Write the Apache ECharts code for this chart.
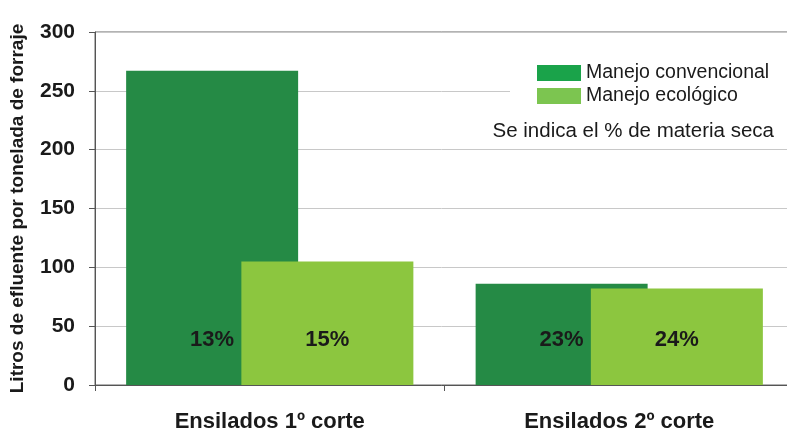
<!DOCTYPE html>
<html>
<head>
<meta charset="utf-8">
<script src="https://cdn.jsdelivr.net/npm/echarts@6/dist/echarts.min.js"></script>
<style>
  html, body { margin: 0; padding: 0; background: #fff; }
  #chart { width: 787px; height: 432px; }
</style>
</head>
<body>
<div id="chart"></div>
<script>
// datos
var categorias = ["Ensilados 1º corte", "Ensilados 2º corte"];
var convencional = [267, 86];
var ecologico = [105, 82];
var msConvencional = ["13%", "23%"];
var msEcologico = ["15%", "24%"];
var ticksY = [0, 50, 100, 150, 200, 250, 300];

var fuente = "Liberation Sans, Arial, sans-serif";

function etiqueta(textos) {
  return {
    show: true,
    position: "insideBottom",
    distance: 34,
    formatter: function (p) { return textos[p.dataIndex]; },
    color: "#1a1a1a",
    fontFamily: fuente,
    fontWeight: "bold",
    fontSize: 22
  };
}

var chart = echarts.init(document.getElementById("chart"));
chart.setOption({
  backgroundColor: "#fff",
  animation: false,
  grid: {
    left: 95, top: 32, width: 699, bottom: 47,
    outerBoundsMode: "none",
    containLabel: false,
    show: true, borderColor: "#666", borderWidth: 1, backgroundColor: "transparent"
  },
  title: {
    text: "Se indica el % de materia seca",
    right: 8, top: 116, z: 10,
    textStyle: { fontFamily: fuente, fontSize: 20.5, fontWeight: "normal", color: "#1a1a1a" }
  },
  graphic: [{
    type: "rect", z: 5,
    shape: { x: 510, y: 50, width: 277, height: 94 },
    style: { fill: "#fff" }
  }],
  legend: {
    orient: "vertical",
    left: 532, top: 58, z: 10,
    itemWidth: 44, itemHeight: 16, itemGap: 3,
    icon: "rect",
    textStyle: { fontFamily: fuente, fontSize: 19.5, color: "#1a1a1a", padding: [0, 0, 0, 0] },
    data: [
      { name: "Manejo convencional", itemStyle: { color: "#1aa34a" } },
      { name: "Manejo ecológico", itemStyle: { color: "#7cc550" } }
    ]
  },
  xAxis: {
    type: "category",
    data: categorias,
    axisLine: { lineStyle: { color: "#555", width: 1 } },
    axisTick: { show: true, length: 6, lineStyle: { color: "#555" } },
    axisLabel: {
      margin: 26, color: "#1a1a1a",
      fontFamily: fuente, fontWeight: "bold", fontSize: 22
    }
  },
  yAxis: {
    type: "value",
    min: 0, max: 300, interval: 50,
    name: "Litros de efluente por tonelada de forraje",
    nameLocation: "middle",
    nameGap: 68,
    nameTextStyle: { fontFamily: fuente, fontWeight: "bold", fontSize: 19, color: "#1a1a1a" },
    axisLine: { show: true, lineStyle: { color: "#555" } },
    axisTick: { show: true, length: 6, lineStyle: { color: "#555" } },
    axisLabel: {
      margin: 20, color: "#1a1a1a",
      fontFamily: fuente, fontWeight: "bold", fontSize: 21,
      formatter: function (v) { return ticksY.indexOf(v) >= 0 ? String(v) : ""; }
    },
    splitLine: { lineStyle: { color: "#c8c8c8" } }
  },
  series: [
    {
      name: "Manejo convencional",
      type: "bar",
      barWidth: 172,
      barGap: "-33%",
      itemStyle: { color: "#258a45" },
      label: etiqueta(msConvencional),
      data: convencional
    },
    {
      name: "Manejo ecológico",
      type: "bar",
      barWidth: 172,
      barGap: "-33%",
      itemStyle: { color: "#8cc63f" },
      label: etiqueta(msEcologico),
      data: ecologico
    }
  ]
});
</script>
</body>
</html>
